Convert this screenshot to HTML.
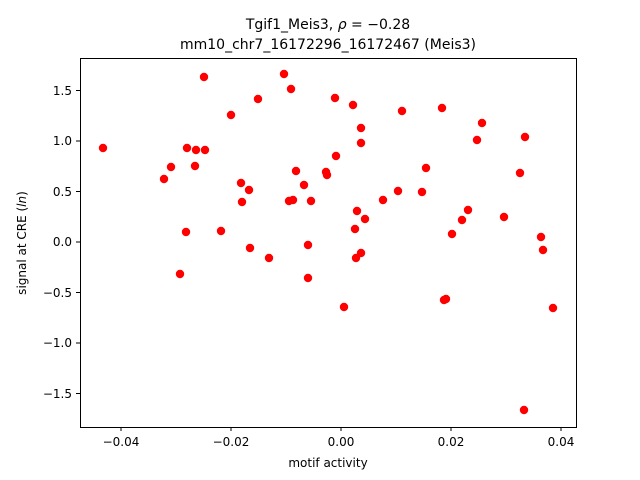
<!DOCTYPE html>
<html><head><style>body{margin:0;background:#fff}svg{display:block}</style></head><body>
<svg width="640" height="480" xmlns="http://www.w3.org/2000/svg" font-family="DejaVu Sans, Liberation Sans, sans-serif">
<rect width="640" height="480" fill="#fff"/>
<g fill="#f00">
<circle cx="103" cy="148" r="4.2"/><circle cx="164" cy="179" r="4.2"/><circle cx="171" cy="167" r="4.2"/><circle cx="187" cy="148" r="4.2"/><circle cx="186" cy="232" r="4.2"/><circle cx="180" cy="274" r="4.2"/><circle cx="204" cy="77" r="4.2"/><circle cx="196" cy="150" r="4.2"/><circle cx="205" cy="150" r="4.2"/><circle cx="195" cy="166" r="4.2"/><circle cx="231" cy="115" r="4.2"/><circle cx="221" cy="231" r="4.2"/><circle cx="241" cy="183" r="4.2"/><circle cx="242" cy="202" r="4.2"/><circle cx="249" cy="190" r="4.2"/><circle cx="250" cy="248" r="4.2"/><circle cx="258" cy="99" r="4.2"/><circle cx="269" cy="258" r="4.2"/><circle cx="284" cy="74" r="4.2"/><circle cx="291" cy="89" r="4.2"/><circle cx="289" cy="201" r="4.2"/><circle cx="293" cy="200" r="4.2"/><circle cx="296" cy="171" r="4.2"/><circle cx="304" cy="185" r="4.2"/><circle cx="308" cy="245" r="4.2"/><circle cx="308" cy="278" r="4.2"/><circle cx="311" cy="201" r="4.2"/><circle cx="326" cy="172" r="4.2"/><circle cx="327" cy="175" r="4.2"/><circle cx="335" cy="98" r="4.2"/><circle cx="336" cy="156" r="4.2"/><circle cx="344" cy="307" r="4.2"/><circle cx="353" cy="105" r="4.2"/><circle cx="357" cy="211" r="4.2"/><circle cx="355" cy="229" r="4.2"/><circle cx="356" cy="258" r="4.2"/><circle cx="361" cy="253" r="4.2"/><circle cx="361" cy="128" r="4.2"/><circle cx="361" cy="143" r="4.2"/><circle cx="365" cy="219" r="4.2"/><circle cx="383" cy="200" r="4.2"/><circle cx="398" cy="191" r="4.2"/><circle cx="402" cy="111" r="4.2"/><circle cx="422" cy="192" r="4.2"/><circle cx="426" cy="168" r="4.2"/><circle cx="442" cy="108" r="4.2"/><circle cx="444" cy="300" r="4.2"/><circle cx="446" cy="299" r="4.2"/><circle cx="452" cy="234" r="4.2"/><circle cx="462" cy="220" r="4.2"/><circle cx="468" cy="210" r="4.2"/><circle cx="477" cy="140" r="4.2"/><circle cx="482" cy="123" r="4.2"/><circle cx="504" cy="217" r="4.2"/><circle cx="520" cy="173" r="4.2"/><circle cx="525" cy="137" r="4.2"/><circle cx="541" cy="237" r="4.2"/><circle cx="543" cy="250" r="4.2"/><circle cx="524" cy="410" r="4.2"/><circle cx="553" cy="308" r="4.2"/>
</g>
<rect x="80.5" y="58.5" width="496" height="369" fill="none" stroke="#000" stroke-width="1"/>
<g stroke="#000" stroke-width="1">
<line x1="121" y1="427" x2="121" y2="431"/><line x1="231" y1="427" x2="231" y2="431"/><line x1="341" y1="427" x2="341" y2="431"/><line x1="451" y1="427" x2="451" y2="431"/><line x1="561" y1="427" x2="561" y2="431"/>
<line x1="76" y1="90.5" x2="80" y2="90.5"/><line x1="76" y1="141" x2="80" y2="141"/><line x1="76" y1="191.5" x2="80" y2="191.5"/><line x1="76" y1="242" x2="80" y2="242"/><line x1="76" y1="292.5" x2="80" y2="292.5"/><line x1="76" y1="343" x2="80" y2="343"/><line x1="76" y1="393.5" x2="80" y2="393.5"/>
</g>
<g font-size="12" text-anchor="middle" fill="#000">
<text x="121" y="446">−0.04</text><text x="231" y="446">−0.02</text><text x="341" y="446">0.00</text><text x="451" y="446">0.02</text><text x="561" y="446">0.04</text>
<text x="328" y="467">motif activity</text>
</g>
<g font-size="12" text-anchor="end" fill="#000">
<text x="72" y="95">1.5</text><text x="72" y="145">1.0</text><text x="72" y="196">0.5</text><text x="72" y="246">0.0</text><text x="72" y="297">−0.5</text><text x="72" y="347">−1.0</text><text x="72" y="398">−1.5</text>
</g>
<text transform="translate(26,243) rotate(-90)" font-size="12" text-anchor="middle">signal at CRE (<tspan font-style="italic">ln</tspan>)</text>
<text x="328" y="29" font-size="14" text-anchor="middle">Tgif1_Meis3, <tspan font-style="italic">ρ</tspan> = −0.28</text>
<text x="328" y="49" font-size="14" text-anchor="middle">mm10_chr7_16172296_16172467 (Meis3)</text>
</svg>
</body></html>
